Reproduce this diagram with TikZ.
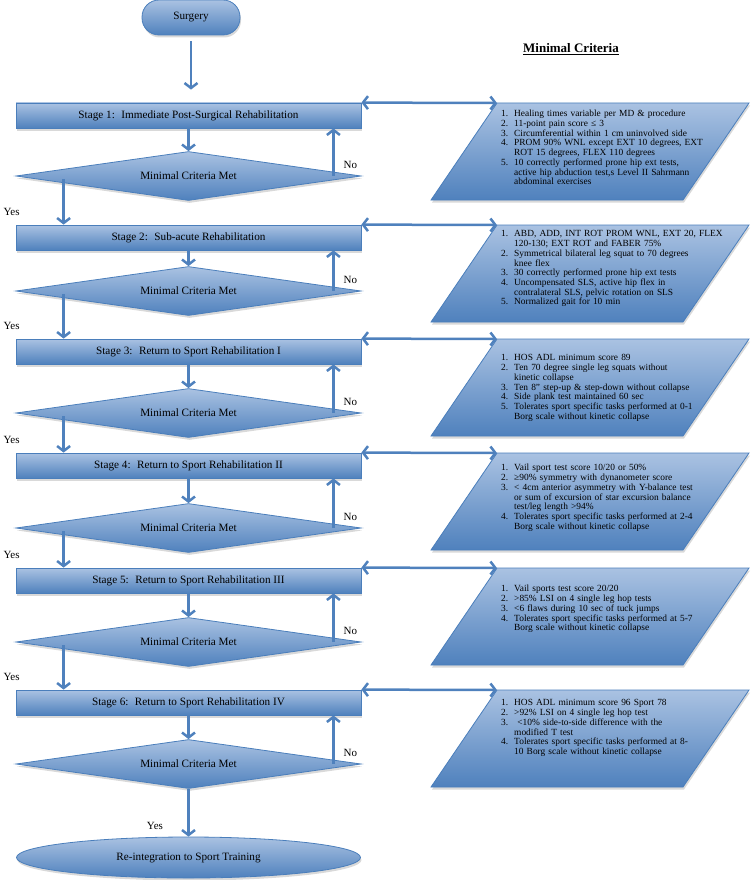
\documentclass[tikz,border=0pt]{standalone}
\usepackage{fontspec}
\setmainfont{Liberation Serif}
\usepackage{enumitem}
\usepackage{tikz}
\usetikzlibrary{positioning,arrows.meta,shapes.geometric,shadows}
\definecolor{flowedge}{RGB}{74,126,187}
\definecolor{flowtop}{RGB}{170,194,226}
\definecolor{flowbot}{RGB}{79,129,189}
\definecolor{flowarrow}{RGB}{79,129,189}
\newlist{critenum}{enumerate}{1}
\setlist[critenum]{label=\arabic*., leftmargin=14pt, labelsep=6pt, nosep}
\tikzset{
  flowfill/.style={draw=flowedge, line width=0.8pt, top color=flowtop, bottom color=flowbot,
    drop shadow={shadow xshift=1pt, shadow yshift=-2.5pt, opacity=0.3}},
  stagebox/.style={flowfill, rectangle, minimum width=345pt, minimum height=25pt, inner sep=0pt, font=\fontsize{11.2}{13}\selectfont},
  critdiam/.style={flowfill, diamond, aspect=7, minimum width=345pt, minimum height=49pt, inner sep=0pt, font=\fontsize{11.2}{13}\selectfont},
  terminal/.style={flowfill, rectangle, rounded corners=17pt, minimum width=98pt, minimum height=35pt, inner sep=0pt, font=\fontsize{11.2}{13}\selectfont},
  endbox/.style={flowfill, ellipse, minimum width=344pt, minimum height=41pt, inner sep=0pt, font=\fontsize{11.2}{13}\selectfont},
  critlist/.style={anchor=north west, text width=240pt, align=left, inner sep=0pt, font=\fontsize{9.4}{9.7}\selectfont},
  arr/.style={-{Straight Barb[length=5pt,width=13pt]}, line width=2.5pt, draw=flowarrow},
  darr/.style={{Straight Barb[length=5pt,width=13pt]}-{Straight Barb[length=5pt,width=13pt]}, line width=2.5pt, draw=flowarrow},
  lbl/.style={font=\fontsize{11}{13}\selectfont},
}

\begin{document}
\begin{tikzpicture}[x=1pt,y=-1pt]
  \useasboundingbox (0,0) rectangle (751,880);
  % flow column
  \node[terminal] (surg) at (191,17.5) {Surgery};
  \node[stagebox] (s1) at (188.5,115.5) {Stage 1:~ Immediate Post-Surgical Rehabilitation};
  \node[critdiam] (d1) at (188.5,176) {Minimal Criteria Met};
  \node[stagebox] (s2) at (188.5,237.5) {Stage 2:~ Sub-acute Rehabilitation};
  \node[critdiam] (d2) at (188.5,291) {Minimal Criteria Met};
  \node[stagebox] (s3) at (188.5,351.5) {Stage 3:~ Return to Sport Rehabilitation I};
  \node[critdiam] (d3) at (188.5,413) {Minimal Criteria Met};
  \node[stagebox] (s4) at (188.5,465.5) {Stage 4:~ Return to Sport Rehabilitation II};
  \node[critdiam] (d4) at (188.5,528) {Minimal Criteria Met};
  \node[stagebox] (s5) at (188.5,580.5) {Stage 5:~ Return to Sport Rehabilitation III};
  \node[critdiam] (d5) at (188.5,642) {Minimal Criteria Met};
  \node[stagebox] (s6) at (188.5,702.5) {Stage 6:~ Return to Sport Rehabilitation IV};
  \node[critdiam] (d6) at (188.5,764) {Minimal Criteria Met};
  \node[endbox] (fin) at (188.5,857.5) {Re-integration to Sport Training};

  % criteria boxes
  \foreach \t [count=\i] in {103,225,339,453,568,690}{
    \shade[flowfill] (497,\t) -- (749,\t) -- (683,\t+97) -- (431,\t+97) -- cycle;
    \coordinate (p\i) at (497,\t);
  }
  \node[font=\fontsize{13}{15}\selectfont\bfseries] (mchead) at (571,49) {\underline{Minimal Criteria}};
  \node[critlist] (c1) at (500,107) {\begin{critenum}
    \item Healing times variable per MD \& procedure
    \item 11-point pain score ≤ 3
    \item Circumferential within 1 cm uninvolved side
    \item PROM 90\% WNL except EXT 10 degrees, EXT\\ROT 15 degrees, FLEX 110 degrees
    \item 10 correctly performed prone hip ext tests,\\active hip abduction test,s Level II Sahrmann\\abdominal exercises
  \end{critenum}};
  \node[critlist] (c2) at (500,227) {\begin{critenum}
    \item ABD, ADD, INT ROT PROM WNL, EXT 20, FLEX\\120-130; EXT ROT and FABER 75\%
    \item Symmetrical bilateral leg squat to 70 degrees\\knee flex
    \item 30 correctly performed prone hip ext tests
    \item Uncompensated SLS, active hip flex in\\contralateral SLS, pelvic rotation on SLS
    \item Normalized gait for 10 min
  \end{critenum}};
  \node[critlist] (c3) at (500,351) {\begin{critenum}
    \item HOS ADL minimum score 89
    \item Ten 70 degree single leg squats without\\kinetic collapse
    \item Ten 8" step-up \& step-down without collapse
    \item Side plank test maintained 60 sec
    \item Tolerates sport specific tasks performed at 0-1\\Borg scale without kinetic collapse
  \end{critenum}};
  \node[critlist] (c4) at (500,461) {\begin{critenum}
    \item Vail sport test score 10/20 or 50\%
    \item ≥90\% symmetry with dynanometer score
    \item < 4cm anterior asymmetry with Y-balance test\\or sum of excursion of star excursion balance\\test/leg length >94\%
    \item Tolerates sport specific tasks performed at 2-4\\Borg scale without kinetic collapse
  \end{critenum}};
  \node[critlist] (c5) at (500,582) {\begin{critenum}
    \item Vail sports test score 20/20
    \item >85\% LSI on 4 single leg hop tests
    \item <6 flaws during 10 sec of tuck jumps
    \item Tolerates sport specific tasks performed at 5-7\\Borg scale without kinetic collapse
  \end{critenum}};
  \node[critlist] (c6) at (500,696) {\begin{critenum}
    \item HOS ADL minimum score 96 Sport 78
    \item >92\% LSI on 4 single leg hop test
    \item \ <10\% side-to-side difference with the\\modified T test
    \item Tolerates sport specific tasks performed at 8-\\10 Borg scale without kinetic collapse
  \end{critenum}};

  % arrows
  \draw[arr, shorten <=6pt, shorten >=13pt] (surg.south) -- (surg.south |- s1.north);
  \foreach \i in {1,...,6}{
    \draw[arr] (s\i.south) -- (d\i.north);
    \coordinate (n\i) at ([xshift=-28pt]s\i.south east);
    \draw[arr] (n\i |- d\i.center) -- (n\i);
    \node[lbl] (no\i) at ([xshift=17pt,yshift=11pt]n\i |- d\i.center) {No};
    \draw[darr] (s\i.north east) -- (p\i);
  }
  \foreach \i/\j in {1/2,2/3,3/4,4/5,5/6}{
    \coordinate (y\i) at ([xshift=48pt]s\j.north west);
    \draw[arr] ([yshift=-3pt]y\i |- d\i.center) -- (y\i);
    \node[lbl, anchor=west] (yes\i) at ([yshift=13pt]y\i -| 0,0) {Yes};
  }
  \draw[arr] (d6.south) -- (fin.north);
  \node[lbl] (yes6) at (155,826) {Yes};
\end{tikzpicture}
\end{document}
